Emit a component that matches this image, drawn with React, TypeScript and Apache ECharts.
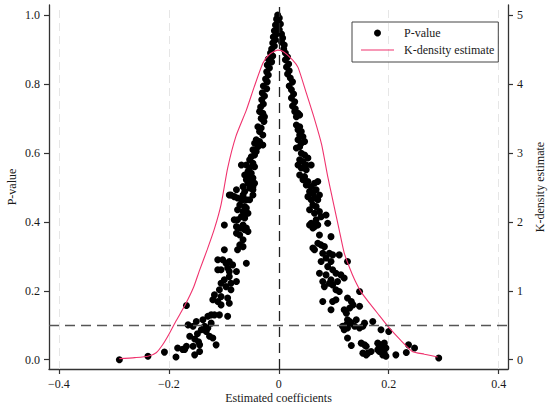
import React, { useEffect, useRef } from "react";
import * as echarts from "echarts";

// Scatter: [estimated coefficient, p-value]
const pointsLeft: [number, number][] = [
  [-0.002, 1.0], [-0.004, 0.988], [-0.001, 0.98], [-0.006, 0.971], [-0.002, 0.962], [-0.008, 0.954],
  [-0.004, 0.945], [-0.01, 0.936], [-0.006, 0.928], [-0.011, 0.919], [-0.008, 0.91], [-0.013, 0.901],
  [-0.015, 0.89], [-0.011, 0.881], [-0.019, 0.872], [-0.013, 0.864], [-0.021, 0.855], [-0.017, 0.846],
  [-0.022, 0.835], [-0.019, 0.826], [-0.024, 0.814], [-0.021, 0.806], [-0.028, 0.794], [-0.022, 0.786],
  [-0.03, 0.774], [-0.026, 0.765], [-0.031, 0.754], [-0.028, 0.742], [-0.033, 0.733],
  [-0.035, 0.72], [-0.029, 0.715], [-0.026, 0.705], [-0.032, 0.7], [-0.027, 0.691],
  [-0.038, 0.676], [-0.032, 0.672], [-0.035, 0.662], [-0.029, 0.652],
  [-0.041, 0.638], [-0.035, 0.633], [-0.044, 0.628], [-0.038, 0.618], [-0.029, 0.623],
  [-0.047, 0.609], [-0.041, 0.604], [-0.044, 0.594], [-0.05, 0.589],
  [-0.053, 0.58], [-0.047, 0.57], [-0.059, 0.565], [-0.053, 0.556], [-0.044, 0.56], [-0.068, 0.565],
  [-0.056, 0.546], [-0.05, 0.541], [-0.062, 0.536], [-0.053, 0.531], [-0.047, 0.527], [-0.059, 0.522],
  [-0.05, 0.517], [-0.056, 0.512], [-0.044, 0.512],
  [-0.053, 0.498], [-0.047, 0.493], [-0.062, 0.488], [-0.065, 0.478], [-0.077, 0.493],
  [-0.087, 0.478], [-0.081, 0.473], [-0.075, 0.469],
  [-0.068, 0.464], [-0.059, 0.464], [-0.071, 0.449], [-0.062, 0.444], [-0.075, 0.435], [-0.065, 0.43],
  [-0.059, 0.425], [-0.068, 0.415], [-0.062, 0.411], [-0.075, 0.406], [-0.081, 0.406], [-0.099, 0.391],
  [-0.077, 0.386], [-0.071, 0.382], [-0.065, 0.391], [-0.059, 0.382],
  [-0.09, 0.478], [-0.065, 0.502], [-0.047, 0.502], [-0.047, 0.478], [-0.053, 0.464], [-0.065, 0.464],
  [-0.059, 0.44], [-0.056, 0.425], [-0.068, 0.382], [-0.062, 0.377], [-0.056, 0.372], [-0.077, 0.367],
  [-0.071, 0.362], [-0.065, 0.348], [-0.071, 0.333], [-0.065, 0.328], [-0.075, 0.319], [-0.099, 0.319],
  [-0.102, 0.29], [-0.111, 0.29], [-0.096, 0.28], [-0.09, 0.285], [-0.084, 0.275], [-0.093, 0.266],
  [-0.105, 0.261], [-0.111, 0.261], [-0.09, 0.256], [-0.077, 0.256], [-0.059, 0.28], [-0.09, 0.241],
  [-0.099, 0.232], [-0.105, 0.222], [-0.087, 0.222], [-0.077, 0.227], [-0.096, 0.212], [-0.108, 0.203],
  [-0.087, 0.203], [-0.117, 0.188], [-0.105, 0.183], [-0.093, 0.179], [-0.12, 0.174], [-0.111, 0.169],
  [-0.105, 0.159], [-0.168, 0.157], [-0.093, 0.126], [-0.09, 0.164],
  [-0.165, 0.101], [-0.156, 0.097], [-0.15, 0.111], [-0.138, 0.116], [-0.135, 0.097], [-0.129, 0.092],
  [-0.141, 0.087], [-0.132, 0.082], [-0.126, 0.068], [-0.12, 0.063], [-0.114, 0.043], [-0.162, 0.068],
  [-0.153, 0.06], [-0.148, 0.075], [-0.146, 0.052], [-0.144, 0.043], [-0.168, 0.039], [-0.156, 0.039],
  [-0.144, 0.024], [-0.153, 0.014], [-0.175, 0.03], [-0.171, 0.03], [-0.184, 0.034], [-0.187, 0.008],
  [-0.208, 0.022], [-0.238, 0.01], [-0.29, 0.0], [-0.123, 0.106], [-0.129, 0.126], [-0.123, 0.13],
  [-0.117, 0.13], [-0.108, 0.13],
];

const pointsRight: [number, number][] = [
  [0.001, 0.991], [0.003, 0.974], [0.001, 0.957], [0.005, 0.945], [0.007, 0.933], [0.005, 0.922],
  [0.01, 0.913], [0.009, 0.901], [0.012, 0.89], [0.016, 0.878], [0.012, 0.87], [0.018, 0.858],
  [0.014, 0.849], [0.019, 0.838], [0.016, 0.829], [0.021, 0.817], [0.025, 0.806], [0.019, 0.794],
  [0.023, 0.783], [0.027, 0.771], [0.023, 0.759], [0.029, 0.748], [0.025, 0.736], [0.03, 0.728],
  [0.029, 0.72], [0.035, 0.715], [0.038, 0.71], [0.032, 0.705],
  [0.032, 0.681], [0.038, 0.676], [0.035, 0.667], [0.041, 0.662], [0.038, 0.652], [0.044, 0.647],
  [0.035, 0.638], [0.041, 0.628], [0.047, 0.633], [0.038, 0.618], [0.032, 0.614],
  [0.041, 0.599], [0.047, 0.594], [0.038, 0.58], [0.044, 0.575], [0.053, 0.585], [0.05, 0.565],
  [0.059, 0.565], [0.041, 0.556], [0.05, 0.551], [0.035, 0.565],
  [0.038, 0.536], [0.047, 0.531], [0.044, 0.522], [0.053, 0.517], [0.05, 0.507], [0.059, 0.502],
  [0.065, 0.512], [0.071, 0.517], [0.056, 0.488], [0.062, 0.483], [0.068, 0.493], [0.053, 0.473],
  [0.059, 0.464], [0.065, 0.469], [0.071, 0.464], [0.074, 0.478], [0.062, 0.449], [0.068, 0.444],
  [0.056, 0.435], [0.065, 0.425], [0.074, 0.43], [0.077, 0.415], [0.068, 0.406], [0.062, 0.391],
  [0.071, 0.391], [0.086, 0.42], [0.089, 0.396],
  [0.059, 0.396], [0.065, 0.386], [0.062, 0.382], [0.056, 0.391], [0.095, 0.357], [0.074, 0.362],
  [0.071, 0.338], [0.077, 0.333], [0.065, 0.319], [0.062, 0.324], [0.08, 0.309], [0.083, 0.328],
  [0.092, 0.309], [0.098, 0.304], [0.11, 0.304], [0.086, 0.295], [0.095, 0.285], [0.077, 0.285],
  [0.089, 0.27], [0.098, 0.261], [0.125, 0.285],
  [0.074, 0.251], [0.086, 0.246], [0.104, 0.251], [0.113, 0.246], [0.119, 0.237],
  [0.08, 0.227], [0.092, 0.222], [0.083, 0.212], [0.098, 0.217], [0.107, 0.227], [0.095, 0.232],
  [0.104, 0.203], [0.11, 0.198], [0.147, 0.198],
  [0.08, 0.169], [0.098, 0.169], [0.104, 0.174], [0.095, 0.145],
  [0.125, 0.179], [0.132, 0.169], [0.135, 0.159], [0.129, 0.15], [0.147, 0.155], [0.119, 0.145], [0.123, 0.135],
  [0.125, 0.116], [0.129, 0.111], [0.123, 0.101], [0.116, 0.097], [0.119, 0.087], [0.125, 0.092],
  [0.132, 0.106], [0.141, 0.116], [0.138, 0.097], [0.147, 0.092], [0.153, 0.097], [0.156, 0.106],
  [0.171, 0.111], [0.125, 0.063], [0.132, 0.041], [0.15, 0.048], [0.156, 0.043], [0.159, 0.039],
  [0.153, 0.019], [0.162, 0.019], [0.168, 0.024], [0.159, 0.014],
  [0.18, 0.048], [0.186, 0.043], [0.192, 0.048], [0.183, 0.039], [0.189, 0.034], [0.195, 0.034],
  [0.183, 0.024], [0.192, 0.019], [0.195, 0.01], [0.189, 0.014], [0.18, 0.029],
  [0.186, 0.087], [0.2, 0.082], [0.213, 0.014], [0.232, 0.021], [0.236, 0.043], [0.247, 0.034],
  [0.291, 0.005],
];

// Kernel density estimate: coefficient -> density
const kdCoef = [
  -0.29, -0.262, -0.238, -0.223, -0.211, -0.199, -0.187, -0.17, -0.155, -0.144, -0.13, -0.117, -0.105,
  -0.093, -0.078, -0.059, -0.045, -0.029, -0.018, -0.002, 0.008, 0.025, 0.035, 0.05, 0.065, 0.078,
  0.089, 0.1, 0.11, 0.119, 0.129, 0.138, 0.15, 0.165, 0.183, 0.201, 0.222, 0.243, 0.265, 0.289,
];
const kdDensity = [
  0.015, 0.03, 0.05, 0.1, 0.22, 0.38, 0.56, 0.8, 1.05, 1.3, 1.6, 1.9, 2.25,
  2.78, 3.24, 3.62, 3.95, 4.3, 4.42, 4.49, 4.47, 4.35, 4.24, 3.87, 3.49, 3.12,
  2.66, 2.25, 1.88, 1.55, 1.33, 1.16, 0.98, 0.82, 0.64, 0.46, 0.28, 0.12, 0.08, 0.04,
];

const coefTicks = [-0.4, -0.2, 0, 0.2, 0.4];
const pTicks = [0, 0.2, 0.4, 0.6, 0.8, 1.0];
const kdTicks = [0, 1, 2, 3, 4, 5];
const gridCoefs = [-0.4, -0.2, 0.2, 0.4];
const refP = 0.1;
const refCoef = 0;

const FONT = "Liberation Serif";
const TXT = "#1a1a1a";
const AXIS = "#333";
const KD_COLOR = "#f0336e";

export default function App() {
  const ref = useRef<HTMLDivElement>(null);
  useEffect(() => {
    if (!ref.current) return;
    const chart = echarts.init(ref.current, null, { renderer: "svg" });
    const axisCommon = {
      axisLine: { show: true, onZero: false, lineStyle: { color: AXIS, width: 1.3 } },
      axisTick: { show: true, length: 5, lineStyle: { color: AXIS, width: 1.2 } },
      splitLine: { show: false },
      nameMoveOverlap: false,
      nameTextStyle: { fontFamily: FONT, fontSize: 12, color: TXT },
    };
    chart.setOption({
      animation: false,
      textStyle: { fontFamily: FONT },
      grid: { left: 49, right: 42, top: 5, bottom: 40, outerBoundsMode: "none", containLabel: false },
      legend: {
        left: 352,
        top: 22,
        orient: "vertical",
        borderColor: "#444",
        borderWidth: 1,
        padding: [5, 4, 6, 9],
        itemGap: 5,
        itemWidth: 33,
        itemHeight: 7,
        textStyle: { fontFamily: FONT, fontSize: 12, color: TXT, padding: [0, 0, 0, 5] },
        data: [
          { name: "P-value", icon: "circle" },
          { name: "K-density estimate", icon: "path://M0 0H100V3H0Z" },
        ],
      },
      xAxis: {
        type: "value",
        min: -0.418,
        max: 0.417,
        name: "Estimated coefficients",
        nameLocation: "middle",
        nameGap: 23,
        ...axisCommon,
        axisTick: { ...axisCommon.axisTick, customValues: coefTicks },
        axisLabel: {
          customValues: coefTicks,
          fontFamily: FONT,
          fontSize: 12,
          color: TXT,
          margin: 9,
          formatter: (v: number) =>
            Math.abs(v) < 1e-9 ? "0" : v < 0 ? "\u2212" + Math.abs(v).toFixed(1) : v.toFixed(1),
        },
      },
      yAxis: [
        {
          type: "value",
          position: "left",
          min: -0.027,
          max: 1.029,
          name: "P-value",
          nameLocation: "middle",
          nameGap: 31,
          nameRotate: 90,
          ...axisCommon,
          axisTick: { ...axisCommon.axisTick, customValues: pTicks },
          axisLabel: {
            customValues: pTicks,
            fontFamily: FONT,
            fontSize: 12,
            color: TXT,
            margin: 9,
            formatter: (v: number) => v.toFixed(1),
          },
        },
        {
          type: "value",
          position: "right",
          min: -0.135,
          max: 5.145,
          name: "K-density estimate",
          nameLocation: "middle",
          nameGap: 26,
          nameRotate: 90,
          ...axisCommon,
          axisTick: { ...axisCommon.axisTick, customValues: kdTicks },
          axisLabel: {
            customValues: kdTicks,
            fontFamily: FONT,
            fontSize: 12,
            color: TXT,
            margin: 9,
            formatter: (v: number) => String(Math.round(v)),
          },
        },
      ],
      series: [
        {
          name: "grid",
          type: "line",
          data: [],
          markLine: {
            silent: true,
            symbol: "none",
            z: 1,
            label: { show: false },
            lineStyle: { color: "#e6e6e6", type: [8, 5], width: 1 },
            data: gridCoefs.map((v) => ({ xAxis: v })),
          },
        },
        {
          name: "P-value",
          type: "scatter",
          symbol: "circle",
          symbolSize: 7,
          itemStyle: { color: "#000", opacity: 1 },
          data: pointsLeft.concat(pointsRight),
          z: 3,
          markLine: {
            silent: true,
            symbol: "none",
            label: { show: false },
            data: [
              { yAxis: refP, lineStyle: { color: "#555", type: [10, 6], width: 1.3 } },
              { xAxis: refCoef, lineStyle: { color: "#222", type: [10, 6], width: 1.3 } },
            ],
          },
        },
        {
          name: "K-density estimate",
          type: "line",
          yAxisIndex: 1,
          symbol: "none",
          smooth: 0.2,
          z: 4,
          lineStyle: { color: KD_COLOR, width: 1.1 },
          itemStyle: { color: KD_COLOR },
          data: kdCoef.map((c, i) => [c, kdDensity[i]]),
        },
      ],
    });
    return () => chart.dispose();
  }, []);
  return (
    <div
      ref={ref}
      style={{ position: "fixed", left: 0, top: 0, width: 550, height: 409, background: "#fff" }}
    />
  );
}
